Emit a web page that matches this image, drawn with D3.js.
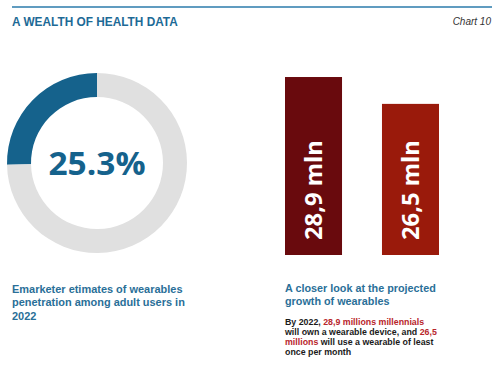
<!DOCTYPE html>
<html><head><meta charset="utf-8">
<script src="https://cdn.jsdelivr.net/npm/d3@7"></script>
<style>
html,body{margin:0;padding:0;background:#fff;}
svg{display:block;}
</style></head>
<body>
<script>
const title = "A WEALTH OF HEALTH DATA";
const chartNo = "Chart 10";
const donutLabels = ["Wearables penetration", "Other"];
const donutValues = [25.3, 74.7];
const donutText = "25.3%";
const barCategories = ["Millennials owning a wearable", "Monthly wearable users"];
const barValues = [28.9, 26.5];
const barLabels = ["28,9 mln", "26,5 mln"];
const leftCaption = ["Emarketer etimates of wearables", "penetration among adult users in", "2022"];
const rightCaption = ["A closer look at the projected", "growth of wearables"];
const bodyLines = [
  [["By 2022, ", false], ["28,9 millions millennials", true]],
  [["will own a wearable device, and ", false], ["26,5", true]],
  [["millions", true], [" will use a wearable of least", false]],
  [["once per month", false]]
];

const W = 500, H = 367;
const svg = d3.select("body").append("svg").attr("width", W).attr("height", H);
const blue = "#15628c", titleBlue = "#1d6a96", capBlue = "#2a6f98";
const sans = "Liberation Sans, Arial, sans-serif";

// fit a font size so that a given line has a target width
function fitSize(str, weight, target, family) {
  const t = svg.append("text").attr("font-family", family || sans).attr("font-weight", weight)
    .attr("font-size", 10).text(str);
  const w = t.node().getComputedTextLength();
  t.remove();
  return 10 * target / w;
}

svg.append("line").attr("x1", 12).attr("x2", 492).attr("y1", 7).attr("y2", 7)
  .attr("stroke", "#2b7bab").attr("stroke-width", 1.5);
svg.append("text").attr("x", 12).attr("y", 26).text(title)
  .attr("font-family", sans).attr("font-weight", "bold")
  .attr("font-size", fitSize(title, "bold", 166)).attr("fill", titleBlue);
svg.append("text").attr("x", 491).attr("y", 25).attr("text-anchor", "end").text(chartNo)
  .attr("font-family", sans).attr("font-style", "italic")
  .attr("font-size", 10).attr("fill", "#333");

// Donut
const pie = d3.pie().sort(null).value(d => d).startAngle(0).endAngle(-2 * Math.PI);
const arc = d3.arc().innerRadius(66).outerRadius(90);
const g = svg.append("g").attr("transform", "translate(97,163)");
g.selectAll("path").data(pie(donutValues)).join("path")
  .attr("d", arc).attr("fill", (d, i) => i === 0 ? blue : "#e0e0e0");
g.append("text").attr("y", 0).attr("dy", "0.36em").attr("text-anchor", "middle").text(donutText)
  .attr("font-family", "Open Sans, sans-serif").attr("font-weight", "bold").attr("font-size", 32)
  .attr("fill", blue).attr("textLength", 97).attr("lengthAdjust", "spacingAndGlyphs");

// Bars
const x = d3.scaleBand().domain(barCategories).range([285, 439]).paddingInner(0.412).paddingOuter(0);
const y = d3.scaleLinear().domain([13, 29]).range([255, 75.9]);
const barColors = ["#690a0d", "#9a1a0b"];
svg.selectAll("rect.bar").data(barValues).join("rect").attr("class", "bar")
  .attr("x", (d, i) => x(barCategories[i])).attr("width", x.bandwidth())
  .attr("y", d => y(d)).attr("height", d => y(13) - y(d))
  .attr("fill", (d, i) => barColors[i]);
svg.selectAll("text.bl").data(barLabels).join("text").attr("class", "bl")
  .attr("transform", (d, i) => `translate(${x(barCategories[i]) + x.bandwidth() / 2 + 8.5},190) rotate(-90)`)
  .attr("text-anchor", "middle").text(d => d)
  .attr("font-family", "Open Sans, sans-serif").attr("font-weight", "bold").attr("font-size", 24)
  .attr("fill", "#fff").attr("textLength", 100).attr("lengthAdjust", "spacingAndGlyphs");

// Captions
const lfs = fitSize(leftCaption[1], "bold", 173);
const lc = svg.append("text").attr("font-family", sans).attr("font-weight", "bold")
  .attr("font-size", lfs).attr("fill", capBlue);
leftCaption.forEach((t, i) => lc.append("tspan").attr("x", 12).attr("y", 292.5 + i * 13.7).text(t));
const rfs = fitSize(rightCaption[0], "bold", 151);
const rc = svg.append("text").attr("font-family", sans).attr("font-weight", "bold")
  .attr("font-size", rfs).attr("fill", capBlue);
rightCaption.forEach((t, i) => rc.append("tspan").attr("x", 285).attr("y", 292 + i * 13.2).text(t));

const bfs = fitSize(bodyLines[1].map(d => d[0]).join(""), "bold", 152);
bodyLines.forEach((line, i) => {
  const t = svg.append("text").attr("x", 285).attr("y", 325.3 + i * 9.8)
    .attr("font-family", sans).attr("font-weight", "bold").attr("font-size", bfs);
  line.forEach(([s, red]) => t.append("tspan").text(s).attr("fill", red ? "#b8262c" : "#1a1a1a"));
});
</script>
</body></html>
